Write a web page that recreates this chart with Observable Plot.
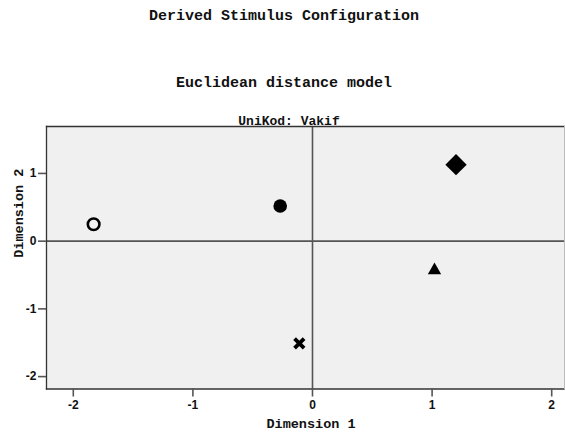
<!DOCTYPE html>
<html>
<head>
<meta charset="utf-8">
<script src="https://cdn.jsdelivr.net/npm/d3@7"></script>
<script src="https://cdn.jsdelivr.net/npm/@observablehq/plot@0.6"></script>
<style>
  html, body { margin: 0; padding: 0; background: #fff; }
</style>
</head>
<body>
<div id="chart"></div>
<script>
// Stimulus coordinates
const stimulusShape = ["openCircle", "filledCircle", "diamond", "triangle", "cross"];
const dim1 = [-1.83, -0.27, 1.20, 1.02, -0.11];
const dim2 = [0.25, 0.52, 1.13, -0.43, -1.51];
const xTicks = [-2, -1, 0, 1, 2];
const yTicks = [-2, -1, 0, 1];

const titleText = "Derived Stimulus Configuration";
const subtitleText = "Euclidean distance model";
const panelText = "UniKod: Vakif";
const xLabel = "Dimension 1";
const yLabel = "Dimension 2";

const pts = stimulusShape.map((s, i) => ({shape: s, x: dim1[i], y: dim2[i]}));
const pick = s => pts.filter(d => d.shape === s);

const mono = "'Liberation Mono', 'Courier New', monospace";
const sans = "'Liberation Sans', Arial, sans-serif";
const fmt = d => String(d);

const chart = Plot.plot({
  width: 565,
  height: 433,
  marginLeft: 46,
  marginRight: 1,
  marginTop: 126,
  marginBottom: 44.5,
  style: {fontFamily: sans, background: "#fff", overflow: "visible"},
  x: {domain: [-2.224, 2.107], ticks: xTicks, label: null},
  y: {domain: [-2.183, 1.693], ticks: yTicks, label: null},
  marks: [
    Plot.frame({fill: "#f0f0f0", stroke: "none"}),
    Plot.ruleY([0], {stroke: "#555", strokeWidth: 1.6}),
    Plot.ruleX([0], {stroke: "#555", strokeWidth: 1.6}),
    Plot.frame({anchor: "top", stroke: "#333", strokeWidth: 1.3}),
    Plot.frame({anchor: "left", stroke: "#333", strokeWidth: 1.3}),
    Plot.frame({anchor: "bottom", stroke: "#333", strokeWidth: 1.3}),
    Plot.frame({anchor: "right", stroke: "#bbb", strokeWidth: 1}),
    Plot.axisX({ticks: xTicks, tickFormat: fmt, tickSize: 8, tickPadding: 3, stroke: "#555", strokeWidth: 1.6,
      fill: "#111", fontSize: 12, fontWeight: "bold", label: null}),
    Plot.axisY({ticks: yTicks, tickFormat: fmt, tickSize: 8, tickPadding: 2, stroke: "#555", strokeWidth: 1.6,
      fill: "#111", fontSize: 12, fontWeight: "bold", label: null}),
    // points
    Plot.dot(pick("openCircle"), {x: "x", y: "y", r: 5.8, stroke: "#000", strokeWidth: 2.6, fill: "none"}),
    Plot.dot(pick("filledCircle"), {x: "x", y: "y", r: 6.8, fill: "#000", stroke: "none"}),
    Plot.dot(pick("diamond"), {x: "x", y: "y", symbol: "diamond2", r: 9.6, fill: "#000", stroke: "none"}),
    Plot.dot(pick("triangle"), {x: "x", y: "y", symbol: "triangle", r: 4.95, fill: "#000", stroke: "none"}),
    Plot.dot(pick("cross"), {x: "x", y: "y", symbol: "times", r: 4.4, stroke: "#000", strokeWidth: 3.8, fill: "none"}),
    // titles
    Plot.text([titleText], {frameAnchor: "top", dx: -21.5, dy: -111, text: d => d,
      fontFamily: mono, fontWeight: "bold", fontSize: 15, fill: "#111", lineAnchor: "middle"}),
    Plot.text([subtitleText], {frameAnchor: "top", dx: -21.5, dy: -44, text: d => d,
      fontFamily: mono, fontWeight: "bold", fontSize: 15, fill: "#111", lineAnchor: "middle"}),
    Plot.text([panelText], {frameAnchor: "top", dx: -16.5, dy: -6, text: d => d,
      fontFamily: mono, fontWeight: "bold", fontSize: 13, fill: "#111", lineAnchor: "middle"}),
    Plot.text([xLabel], {frameAnchor: "bottom", dx: 5.5, dy: 34.5, text: d => d,
      fontFamily: mono, fontWeight: "bold", fontSize: 13.5, fill: "#111", lineAnchor: "middle"}),
    Plot.text([yLabel], {frameAnchor: "left", dx: -28, dy: 0, rotate: -90, text: d => d,
      fontFamily: mono, fontWeight: "bold", fontSize: 13.5, fill: "#111", lineAnchor: "middle"})
  ]
});
document.getElementById("chart").appendChild(chart);
</script>
</body>
</html>
